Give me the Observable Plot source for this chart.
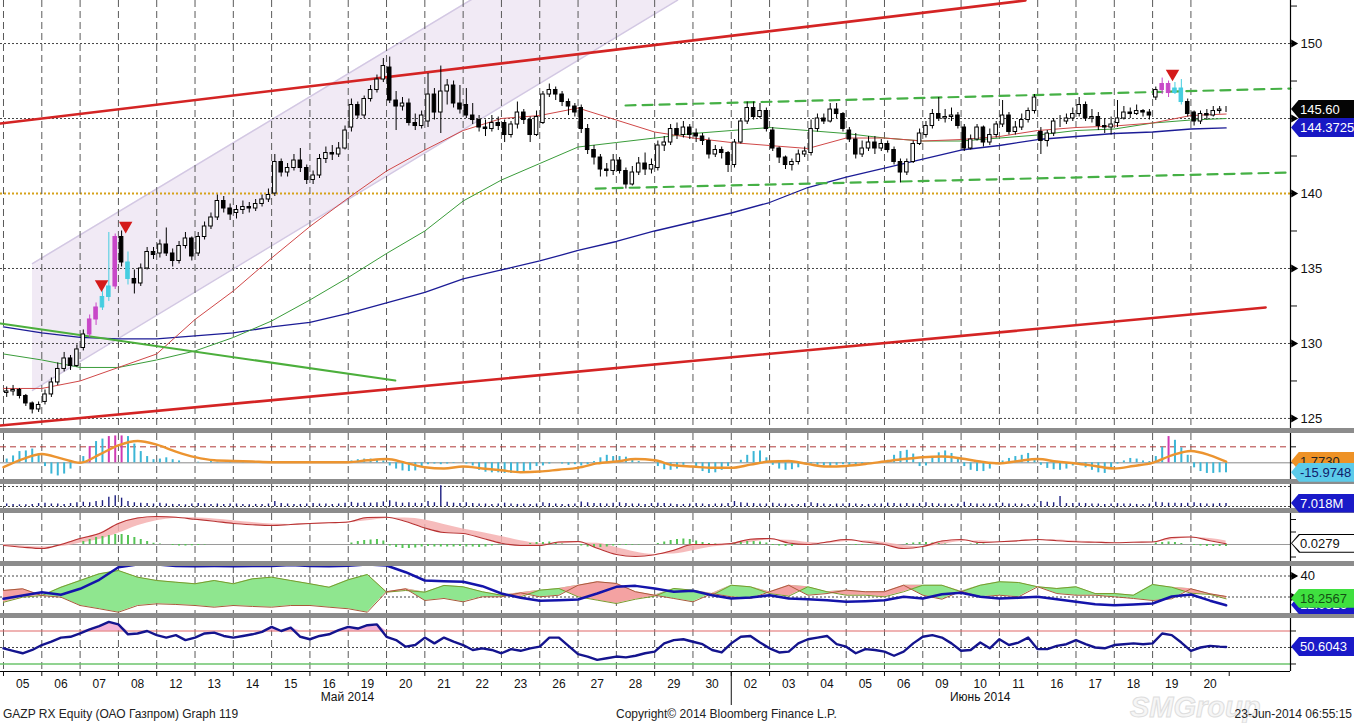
<!DOCTYPE html>
<html><head><meta charset="utf-8">
<script src="https://cdn.jsdelivr.net/npm/d3@7"></script>
<script src="https://cdn.jsdelivr.net/npm/@observablehq/plot@0.6"></script>
<style>
body{margin:0;background:#fff;}
#wrap{position:relative;width:1354px;height:723px;overflow:hidden;font-family:"Liberation Sans",Arial,sans-serif;background:#fff;}
.sep{position:absolute;left:0;width:1354px;height:5px;background:#8c8c8c;}
.tag{position:absolute;left:1291px;width:63px;height:19px;clip-path:polygon(0 50%,8px 0,100% 0,100% 100%,8px 100%);}
.tagin{position:absolute;left:1px;top:1px;right:0;bottom:1px;clip-path:polygon(0 50%,8px 0,100% 0,100% 100%,8px 100%);padding-left:8px;font-size:13px;line-height:17px;white-space:nowrap;}
.txt{position:absolute;white-space:nowrap;color:#222;line-height:1;}
</style></head><body><div id="wrap"></div><script>
// ---------- DATA ----------
const dayLabels = ["05","06","07","08","12","13","14","15","16","19","20","21","22","23","26","27","28","29","30","02","03","04","05","06","09","10","11","16","17","18","19","20"];
const monthLabels = ["Май 2014","Июнь 2014"];
const monthAt = [8.98, 25.5];
const barsPerDay = 6;
const dayOpen = [126.7,126.1,129.7,137.1,136.0,136.0,138.7,140.0,140.9,144.4,148.4,144.8,145.9,144.7,144.7,145.7,142.2,141.7,144.0,141.9,144.2,142.7,144.2,143.3,143.9,144.4,144.6,144.1,145.3,144.7,146.4,145.4];
const close = [
126.8,126.9,126.5,126.0,125.6,125.9, 126.6,127.4,128.3,129.0,128.5,129.6, 130.6,131.6,132.4,133.1,133.8,137.1, 135.4,134.3,134.0,135.0,136.1,135.9,
136.6,136.0,135.5,136.5,137.0,135.8, 137.1,137.8,138.4,139.5,139.0,138.6, 138.9,139.1,139.0,139.3,139.6,139.9, 142.1,141.4,141.7,142.2,141.7,140.9,
141.2,142.3,142.7,142.6,143.0,144.2, 145.9,145.2,146.3,146.9,147.6,148.5, 146.2,145.8,146.0,144.7,144.5,145.2, 146.6,145.4,146.8,147.2,146.0,145.6,
145.2,144.9,144.4,144.3,144.7,144.5, 143.9,144.6,145.4,144.9,143.9,145.1, 146.6,146.9,146.6,146.1,145.8,145.4, 144.3,142.9,142.4,141.6,141.5,142.2,
141.5,140.6,141.4,142.0,141.6,141.9, 143.2,143.4,144.3,143.9,144.4,143.9, 143.8,143.5,142.6,142.9,142.7,141.9, 143.4,144.8,145.7,145.1,145.5,144.3,
143.0,142.4,141.9,142.1,142.6,142.8, 144.3,145.0,144.8,145.6,145.3,144.3, 143.6,142.6,143.0,143.4,143.0,143.3, 142.9,142.1,141.4,142.1,143.3,144.0,
144.5,145.3,145.0,145.1,145.2,144.5, 143.0,143.6,144.4,143.4,143.9,144.6, 145.2,144.1,144.4,144.9,145.5,146.4, 143.5,144.0,144.8,144.8,145.0,145.3,
145.9,145.0,145.1,144.5,144.4,144.6, 145.0,145.4,145.3,145.5,145.4,145.2, 146.9,147.3,146.7,147.0,146.1,145.3, 144.8,145.3,145.2,145.5,145.6,145.6];
const high = [
127.1,127.2,127.0,126.6,126.1,126.1, 126.9,127.7,128.7,129.4,129.2,129.9, 130.9,131.9,132.7,133.5,137.4,137.3, 137.5,136.1,134.9,135.3,136.4,136.4,
136.9,137.7,136.3,136.8,137.4,137.1, 137.4,138.1,138.7,139.9,139.8,139.3, 139.2,139.5,139.4,139.6,139.9,140.3, 142.6,142.3,142.0,142.6,143.0,141.9,
141.5,142.6,143.1,143.2,143.4,144.5, 146.3,146.1,146.5,147.2,147.9,149.0, 149.1,146.8,146.4,146.3,145.3,145.5, 148.0,147.0,148.5,147.6,147.5,147.2,
147.0,146.0,145.2,144.9,145.2,145.1, 144.9,144.8,146.1,145.6,145.1,145.5, 146.8,147.3,147.1,146.8,146.3,146.0, 145.9,144.6,143.2,142.6,142.0,142.6,
142.4,141.7,141.8,142.4,142.7,142.3, 143.5,143.8,144.6,144.7,144.8,144.6, 144.3,144.0,143.7,143.2,143.1,142.8, 143.6,145.0,146.1,146.1,146.0,145.7,
144.4,143.1,142.5,142.3,142.9,143.1, 144.9,145.3,145.3,146.0,146.0,145.4, 144.4,144.0,143.5,143.8,143.8,143.6, 143.5,143.1,142.3,142.3,143.5,144.3,
144.8,145.6,146.4,145.6,145.7,145.4, 144.6,143.9,144.6,144.5,144.3,144.8, 146.2,145.4,144.8,145.3,145.7,146.6, 144.4,144.2,145.0,145.2,145.3,145.7,
146.4,146.1,145.6,145.4,145.0,145.1, 146.2,145.8,145.7,145.9,145.6,145.6, 147.1,147.7,147.5,147.4,147.6,146.3, 145.5,145.5,145.6,145.8,145.8,145.8];
const low = [
126.4,126.5,126.3,125.8,125.3,125.4, 125.9,126.4,127.2,128.1,128.2,128.4, 129.5,130.4,131.2,132.2,132.8,133.6, 135.1,133.9,133.3,133.8,134.9,135.6,
135.7,135.8,135.1,135.3,136.3,135.5, 135.8,136.9,137.6,138.2,138.7,138.2, 138.3,138.6,138.7,138.8,139.1,139.4, 139.8,141.1,141.1,141.5,141.4,140.6,
140.6,141.0,142.0,142.2,142.4,142.9, 144.1,145.0,145.0,146.1,146.7,147.4, 146.0,144.2,145.5,144.5,144.2,144.3, 144.4,144.9,144.0,145.9,145.7,145.3,
145.0,144.6,144.1,143.8,144.1,144.2, 143.4,143.7,144.3,144.6,143.4,143.8, 144.6,146.4,146.2,145.8,145.2,145.1, 144.0,142.6,141.9,141.1,141.1,141.2,
141.3,140.3,140.5,141.2,141.2,141.3, 141.5,142.8,143.2,143.6,143.7,143.6, 143.4,143.2,142.3,142.4,142.3,141.4, 141.7,143.3,144.6,144.9,145.0,144.1,
142.8,142.0,141.6,141.5,141.9,142.4, 142.5,144.1,144.6,144.7,145.0,144.1, 143.4,142.3,142.4,142.8,142.6,142.8, 142.7,141.9,140.7,141.2,142.0,143.2,
143.7,144.3,144.8,144.7,144.8,144.3, 142.8,142.9,143.5,143.1,143.2,143.7, 144.4,143.9,143.9,144.2,144.7,145.3, 142.6,143.1,143.8,144.4,144.6,144.8,
145.1,144.8,144.7,144.2,144.0,143.9, 144.4,144.9,145.0,145.2,145.1,144.9, 146.2,146.6,146.4,146.6,145.9,145.1, 144.5,144.6,144.9,145.1,145.3,145.4];
const magentaBars = [13,14,17,181,182];
const cyanBars = [15,16,19,183,184];
// moving averages, one value per day boundary (last = last bar)
const maRed = [127.0,127.0,127.5,128.4,129.3,131.6,133.5,135.7,137.8,139.7,141.5,142.9,144.2,145.0,145.2,145.7,144.9,144.1,143.7,143.4,143.2,143.0,143.7,143.7,143.5,143.6,143.8,144.2,144.4,144.5,144.7,145.2,145.3];
const maGreen = [129.3,128.9,128.4,128.4,128.9,129.5,130.4,131.5,132.9,134.4,136.0,137.5,139.5,140.9,142.0,143.1,143.4,143.7,144.0,144.2,144.4,144.2,144.0,143.7,143.5,143.5,143.7,143.9,144.2,144.3,144.7,144.9,145.0];
const maBlue = [131.1,130.7,130.4,130.3,130.3,130.5,130.7,131.1,131.4,132.0,132.7,133.4,134.3,134.9,135.5,136.2,136.8,137.5,138.1,138.7,139.4,140.4,141.1,141.7,142.3,142.9,143.2,143.6,143.8,144.0,144.1,144.3,144.3725];
// drawn trend lines (day units, price)
const redTopT = [-0.08, 26.68], redTopV = [144.67, 152.87];
const redLowT = [-0.08, 32.95], redLowV = [124.53, 132.4];
const greenLineT = [-0.08, 10.23], greenLineV = [131.33, 127.53];
const resistT = [16.24, 33.6], resistV = [145.87, 147.0];
const supportT = [15.46, 33.6], supportV = [140.33, 141.4];
const channelT = [0.757, 17.6], channelLo = [126.87, 152.9], channelHi = [135.33, 161.2];
const levelLine = [140];
const sellT = [2.56, 3.19, 30.52], sellV = [133.95, 137.85, 148.0];
const priceLabels = [125,130,135,140,150];
const priceMajor = [125,130,135,140,145,150];
const priceMinor = [127.5,132.5,137.5,142.5,147.5,152.5];
const priceGrid = [125,130,135,145,150];
const lastPrice = 145.60, lastMA = 144.3725;
// panel 1: histogram per bar, signal per half day
const macdHist = [
6,11,18,19,22,14, -6,-18,-21,-18,-10,0, 10,26,34,38,42,43, 43,42,30,18,10,5, 6,8,5,3,0,0, 1,0,2,1,0,1, 0,1,0,1,2,1, 2,1,0,1,1,0,
0,1,1,2,1,2, 3,5,6,6,5,3, -5,-10,-13,-14,-13,-6, -3,-2,-3,-2,-1,0, -2,-5,-12,-15,-16,-16, -17,-17,-16,-16,-12,-6, -5,-2,0,-2,-4,-3, -5,-3,2,8,12,10,
10,9,5,2,0,0, -6,-11,-12,-10,-4,0, -8,-14,-17,-16,-12,-6, 0,4,12,18,19,8, -4,-10,-12,-11,-8,-3, -2,-4,-5,-6,-4,-3, -5,-6,-4,-1,0,0, 4,12,18,20,14,-6,
-5,8,16,19,15,6, -6,-12,-14,-14,-10,-3, 3,7,10,12,15,6, -4,-9,-11,-12,-10,-5, -4,-8,-12,-16,-17,-10, -2,3,7,6,3,2, 10,25,42,36,24,12, -8,-14,-17,-17,-16,-15.9748];
const histMagenta = [13,16,17,18,182];
const macdSignal = [-7,6,14,7,0,13,28,35,29,18, 9,4,3,2,1,1,1,1,1,4, 6,0,-7,-9,-6,-9,-12,-15,-14,-11, -8,-1,2,6,4,-4,-6,-8,-8,-3, 2,3,-2,-6,-5,-2,2,6,9,10, 7,2,-1,3,6,2,-1,-5,-9,-5, 0,12,19,12,1.773];
const macdAlert = [25.6];
// panel 2: volume (millions) per bar
const volume = [
6,5,4,4,5,7, 8,6,6,5,7,9, 10,9,12,14,22,26, 20,12,9,8,7,6, 8,6,5,5,4,6, 7,6,5,6,5,6, 6,5,4,5,5,6, 12,7,6,5,5,6,
7,6,6,5,6,8, 10,8,9,8,9,11, 14,10,8,9,8,7, 12,9,50,10,8,7, 9,7,6,6,5,6, 8,6,5,6,5,6, 9,7,6,5,5,6, 11,9,7,7,6,8,
9,7,6,6,5,7, 8,7,6,5,5,6, 7,6,5,6,6,7, 12,9,8,7,6,6, 8,6,6,5,5,7, 9,7,6,5,6,6, 7,6,5,5,6,6, 8,7,6,7,6,7,
9,7,6,6,5,6, 10,7,6,6,6,7, 8,6,6,6,5,6, 12,10,9,24,7,7, 8,7,6,6,5,6, 7,6,6,5,5,6, 10,9,8,8,7,8, 9,7,6,6,7,7.018];
const volumeGrid = [0, 48];
// panel 3: oscillator line & its signal (half days), histogram per bar
const oscLine = [-0.04,-0.11,-0.16,0.0,0.24,0.44,0.84,1.06,1.12,1.09, 1.01,0.93,0.84,0.79,0.76,0.8,0.84,0.87,0.9,1.08, 1.09,0.92,0.66,0.48,0.44,0.25,0.05,-0.04,-0.04,0.1, 0.12,-0.15,-0.4,-0.48,-0.41,-0.23,0.0,0.0,0.04,0.21, 0.24,0.06,0.0,0.1,0.2,0.1,0.0,-0.16,-0.08,0.14, 0.2,0.08,0.11,0.15,0.2,0.15,0.11,0.09,0.07,0.09, 0.1,0.28,0.3,0.15,0.0279];
const oscSignal = [0.0,-0.06,-0.1,-0.08,0.05,0.2,0.45,0.75,0.95,1.05, 1.07,1.02,0.95,0.88,0.82,0.8,0.81,0.84,0.87,0.95, 1.04,1.06,0.98,0.8,0.62,0.48,0.32,0.15,0.04,0.02, 0.06,0.05,-0.12,-0.3,-0.4,-0.38,-0.25,-0.1,-0.02,0.08, 0.18,0.17,0.08,0.05,0.12,0.15,0.08,-0.04,-0.1,0.0, 0.12,0.15,0.1,0.12,0.16,0.18,0.14,0.11,0.08,0.08, 0.09,0.18,0.28,0.24,0.14];
const oscHist = [
0,0,0,0,0,0, 0,0,0,0,0,0, 0.12,0.2,0.28,0.32,0.36,0.4, 0.4,0.36,0.28,0.2,0.12,0.05, 0.02,0,-0.04,-0.06,-0.06,-0.05, -0.04,-0.02,0,0,0,0, 0,0,0,0,0,0, 0,0,0,0,0,0,
0,0,0,0,0,0, 0.06,0.12,0.16,0.18,0.2,0.14, -0.06,-0.12,-0.16,-0.16,-0.14,-0.1, -0.08,-0.1,-0.1,-0.1,-0.1,-0.08, -0.1,-0.1,-0.12,-0.1,-0.06,-0.02, 0,0,0,0,0.04,0.08, 0.08,0.1,0.08,0.02,0,0, -0.06,-0.1,-0.12,-0.12,-0.1,-0.06,
-0.04,-0.04,-0.03,-0.02,0,0, 0.04,0.1,0.16,0.2,0.22,0.2, 0.14,0.08,0.04,0.02,0,0, 0.04,0.08,0.12,0.12,0.1,0.06, -0.04,-0.06,-0.08,-0.08,-0.04,0, 0,0,0,0,0,0, -0.02,-0.04,-0.04,-0.02,0,0, 0,0,0,0.04,0.06,0.08,
0.08,0.06,0.04,0.02,0,0, 0,0.02,0.04,0.02,0,0, 0,0,0,0,0,0, 0,0,0,0,0,0, 0,0,0,0,0,0, 0,0,0,0,0,0, 0.06,0.08,0.1,0.08,0.04,0, -0.04,-0.06,-0.08,-0.08,-0.08,-0.08];
// panel 4: directional movement (half days)
const plusDI = [15.0,19.8,21.4,29.3,35.7,42.1,45.2,38.9,35.7,34.1, 32.6,35.7,32.6,37.3,38.9,35.7,32.6,29.3,36.4,41.4, 24.6,26.2,24.6,31.0,29.7,25.0,21.7,20.2,26.5,28.1, 20.2,17.0,13.8,17.9,20.8,28.1,26.5,21.7,31.2,29.7, 23.3,20.8,29.7,25.0,21.7,21.7,20.2,25.0,31.2,31.2, 25.0,31.2,34.5,33.8,29.7,28.1,29.7,23.3,23.3,21.7, 31.9,29.3,23.6,22.4,18.2567];
const minusDI = [26.2,27.8,21.4,19.8,11.9,8.8,5.5,11.9,13.5,12.9, 11.9,10.3,11.9,11.0,10.3,11.9,11.9,10.3,8.8,5.5, 25.0,27.8,16.7,18.6,15.4,20.2,20.2,24.0,20.2,21.7, 31.2,34.5,32.9,25.0,21.7,18.6,15.4,23.3,20.2,18.6, 25.0,31.2,21.7,23.3,26.5,25.0,25.0,31.2,21.7,17.9, 25.5,20.2,21.7,20.2,29.7,23.3,21.7,21.7,20.2,18.6, 16.7,18.3,27.8,23.0,20.5];
const adx = [18.3,21.4,24.6,22.1,27.8,36.4,48.4,51.0,51.0,49.6, 49.4,49.5,49.4,49.6,49.5,50.5,49.5,49.4,49.8,51.0, 50.0,43.6,35.7,35.0,34.5,30.3,23.3,19.2,16.4,17.0, 17.6,23.3,29.7,30.6,28.1,25.0,25.9,21.7,18.6,19.5, 21.7,18.6,17.9,17.0,15.4,16.0,17.0,20.2,18.6,22.7, 24.0,20.2,18.6,19.2,20.2,17.9,15.4,13.1,12.2,12.9, 13.8,20.5,22.4,16.5,12.0926];
const dmiGrid = [20, 40];
const dmiLabels = [40];
// panel 5: RSI (quarter days)
const rsi = [49,46,43,47, 53,57,62,63, 67,72,76,81, 78,66,67,70, 65,62,65,59, 62,67,68,64, 62,64,66,69, 75,70,74,63,
60,64,66,71, 75,73,77,78, 63,59,51,53, 62,55,62,57, 53,47,49,47, 43,48,46,49, 51,62,62,52, 42,39,35,37,
39,38,40,43, 45,55,59,60, 57,54,47,44, 55,63,64,56, 49,44,45,55, 60,62,64,54, 51,43,48,47, 45,40,45,55,
63,65,62,55, 46,47,56,49, 60,53,56,62, 48,48,52,54, 59,54,50,49, 53,54,55,54, 55,67,65,56, 46,50,52,51, 50.6043];
const rsiLevels = [30, 50, 70];

// ---------- BUILD ----------
const wrap = document.getElementById("wrap");
const lastT = 31.92;
const XD = [-0.0783, 33.6];
const dayBounds = d3.range(0, 32);
const dayT = i => i < 32 ? i : lastT;
const halfT = i => i < 64 ? i / 2 : lastT;
const qT = i => i < 128 ? i / 4 : lastT;
const barT = i => Math.floor(i / barsPerDay) + ((i % barsPerDay) + 0.5) / barsPerDay;

const bars = close.map((c, i) => ({
  i, t: barT(i), close: c, high: high[i], low: low[i],
  open: i % barsPerDay === 0 ? dayOpen[i / barsPerDay] : close[i - 1]
}));
const hl = b => magentaBars.includes(b.i) ? "#c848c8" : cyanBars.includes(b.i) ? "#45cde0" : null;
const seg = (T, V) => T.map((t, k) => ({t, v: V[k]}));
const ma = arr => arr.map((v, i) => ({t: dayT(i), v}));
const FONT = "'Liberation Sans', Arial, sans-serif";
const blank = () => "";

function panel(top, h, ydom, marks, mb = 0, fs = "13px") {
  const svg = Plot.plot({
    width: 1354, height: h + mb, marginLeft: 0, marginRight: 64, marginTop: 0, marginBottom: mb,
    x: {domain: XD, axis: null}, y: {domain: ydom, axis: null},
    style: {background: "transparent", fontFamily: FONT, fontSize: fs, color: "#111", overflow: "visible"},
    marks
  });
  svg.style.position = "absolute"; svg.style.left = "0px"; svg.style.top = top + "px";
  wrap.appendChild(svg);
  return svg;
}
const vgrid = () => Plot.ruleX(dayBounds, {stroke: "#5a5a5a", strokeDasharray: "7,4", strokeWidth: 1});
const axisLine = () => Plot.ruleX([XD[1]], {stroke: "#000", strokeWidth: 1.2});
const rTicks = (ticks, size = 5) => Plot.axisY({anchor: "right", ticks, tickSize: size, tickFormat: blank, label: null});

// main price panel
const channel = channelT.map((t, k) => ({t, lo: channelLo[k], hi: channelHi[k]}));
const mainSvg = panel(0, 428, [124.33, 152.87], [
  Plot.areaY(channel, {x: "t", y1: "lo", y2: "hi", fill: "#f1eaf5", clip: true}),
  Plot.lineY(channel, {x: "t", y: "lo", stroke: "#d3c8e3", clip: true}),
  Plot.lineY(channel, {x: "t", y: "hi", stroke: "#d3c8e3", clip: true}),
  Plot.ruleY(priceGrid, {stroke: "#444", strokeDasharray: "2,2"}),
  Plot.ruleY(levelLine, {stroke: "#d6a21a", strokeWidth: 2, strokeDasharray: "2,2"}),
  vgrid(),
  Plot.lineY(ma(maBlue), {x: "t", y: "v", stroke: "#1c1c96", strokeWidth: 1.3}),
  Plot.lineY(ma(maGreen), {x: "t", y: "v", stroke: "#3a9c3a", strokeWidth: 1}),
  Plot.lineY(ma(maRed), {x: "t", y: "v", stroke: "#d04848", strokeWidth: 1}),
  Plot.lineY(seg(redTopT, redTopV), {x: "t", y: "v", stroke: "#d42424", strokeWidth: 2.6, clip: true}),
  Plot.lineY(seg(redLowT, redLowV), {x: "t", y: "v", stroke: "#d42424", strokeWidth: 2.6, clip: true}),
  Plot.lineY(seg(greenLineT, greenLineV), {x: "t", y: "v", stroke: "#4caf3c", strokeWidth: 2, clip: true}),
  Plot.lineY(seg(resistT, resistV), {x: "t", y: "v", stroke: "#45b045", strokeWidth: 2.2, strokeDasharray: "10,7"}),
  Plot.lineY(seg(supportT, supportV), {x: "t", y: "v", stroke: "#45b045", strokeWidth: 2.2, strokeDasharray: "10,7"}),
  Plot.ruleX(bars, {x: "t", y1: "low", y2: "high", stroke: b => hl(b) || "#000", strokeWidth: 1}),
  Plot.rect(bars, {x1: b => b.t - 0.046, x2: b => b.t + 0.046, y1: "open", y2: "close",
    fill: b => hl(b) || (b.close >= b.open ? "#fff" : "#000"), stroke: b => hl(b) || "#000", strokeWidth: 1}),
  Plot.dot(seg(sellT, sellV), {x: "t", y: "v", symbol: "triangle", rotate: 180, r: 5, fill: "#d41a1a"}),
  axisLine(),
  Plot.axisY({anchor: "right", ticks: priceLabels, tickSize: 6, tickPadding: 4, fontSize: 13, label: null}),
  rTicks(priceMajor, 6),
  rTicks(priceMinor, 6),
  Plot.dot(priceMajor, {x: XD[1], y: d => d, dx: 3, symbol: "triangle", rotate: 90, r: 3, fill: "#000"})
]);

// panel 1: histogram + signal
const hist = macdHist.map((v, i) => ({t: barT(i), v, c: histMagenta.includes(i) ? "#d03ab4" : "#3cb6d6"}));
const p1 = panel(433, 46, [-26.7, 46.9], [
  vgrid(),
  Plot.ruleY(macdAlert, {stroke: "#b03a3a", strokeDasharray: "6,4"}),
  Plot.ruleY([0], {stroke: "#8a8a8a"}),
  Plot.ruleX(hist, {x: "t", y1: 0, y2: "v", stroke: "c", strokeWidth: 2}),
  Plot.lineY(macdSignal.map((v, i) => ({t: halfT(i), v})), {x: "t", y: "v", stroke: "#ec9430", strokeWidth: 2.4, curve: "monotone-x", clip: true}),
  axisLine(),
  rTicks([0, 25.6])
]);

// panel 2: volume
const vol = volume.map((v, i) => ({t: barT(i), v}));
const p2 = panel(484, 24, [-4.8, 52.8], [
  vgrid(),
  Plot.ruleY(volumeGrid, {stroke: "#444", strokeDasharray: "2,2"}),
  Plot.ruleX(vol, {x: "t", y1: 0, y2: "v", stroke: "#1c1f80", strokeWidth: 1.4}),
  axisLine()
]);

// panel 3: oscillator
const osc = oscLine.map((v, i) => ({t: halfT(i), v, s: oscSignal[i]}));
const oh = oscHist.map((v, i) => ({t: barT(i), v})).filter(d => d.v !== 0);
const p3 = panel(513, 48, [-0.68, 1.24], [
  vgrid(),
  Plot.ruleY([0], {stroke: "#9a9a9a"}),
  Plot.areaY(osc, {x: "t", y1: "s", y2: "v", fill: "#f5b0b0", fillOpacity: 0.85, curve: "monotone-x"}),
  Plot.ruleX(oh, {x: "t", y1: 0, y2: "v", stroke: "#55c455", strokeWidth: 2}),
  Plot.lineY(osc, {x: "t", y: "v", stroke: "#b83232", strokeWidth: 1.2, curve: "monotone-x"}),
  axisLine(),
  rTicks([-0.5, 0.5, 1])
]);

// panel 4: DMI / ADX
const dmi = plusDI.map((p, i) => ({t: halfT(i), p, m: minusDI[i], a: adx[i], hi: Math.max(p, minusDI[i])}));
const p4 = panel(566, 47, [4.29, 49.05], [
  vgrid(),
  Plot.ruleY(dmiGrid, {stroke: "#444", strokeDasharray: "2,2"}),
  Plot.areaY(dmi, {x: "t", y1: "m", y2: "hi", fill: "#8fe68f"}),
  Plot.areaY(dmi, {x: "t", y1: "p", y2: "hi", fill: "#f4a2a2"}),
  Plot.lineY(dmi, {x: "t", y: "p", stroke: "#7a9a2c", strokeWidth: 1}),
  Plot.lineY(dmi, {x: "t", y: "m", stroke: "#a85a3a", strokeWidth: 1}),
  Plot.lineY(dmi, {x: "t", y: "a", stroke: "#1414aa", strokeWidth: 2.5, clip: true}),
  axisLine(),
  Plot.axisY({anchor: "right", ticks: dmiLabels, tickSize: 6, tickPadding: 4, fontSize: 13, label: null}),
  rTicks(dmiGrid, 6),
  Plot.dot(dmiGrid, {x: XD[1], y: d => d, dx: 3, symbol: "triangle", rotate: 90, r: 3, fill: "#000"})
]);

// panel 5: RSI + x axis
const rs = rsi.map((v, i) => ({t: qT(i), v, hi: Math.max(v, 70)}));
const dayCenters = dayLabels.map((d, i) => i + 0.5);
const labelOf = new Map(dayCenters.map((c, i) => [c, dayLabels[i]]));
const monthOf = new Map(monthAt.map((c, i) => [c, monthLabels[i]]));
const p5 = panel(618, 53, [20.9, 85.15], [
  vgrid(),
  Plot.areaY(rs, {x: "t", y1: 70, y2: "hi", fill: "#f4b4d8"}),
  Plot.ruleY([70], {stroke: "#e06868", strokeWidth: 1.2}),
  Plot.ruleY([50], {stroke: "#444", strokeDasharray: "2,2"}),
  Plot.ruleY([30], {stroke: "#6cc46c", strokeWidth: 1.5}),
  Plot.lineY(rs, {x: "t", y: "v", stroke: "#14148e", strokeWidth: 2.4}),
  Plot.ruleY([20.9], {stroke: "#000"}),
  axisLine(),
  rTicks(rsiLevels),
  Plot.axisX({anchor: "bottom", ticks: d3.range(0, 33), tickSize: 5, tickFormat: blank, label: null}),
  Plot.axisX({anchor: "bottom", ticks: [19], tickSize: 34, tickFormat: blank, label: null}),
  Plot.axisX({anchor: "bottom", ticks: dayCenters, tickSize: 0, tickPadding: 8, tickFormat: d => labelOf.get(d), fontSize: 12, label: null}),
  Plot.axisX({anchor: "bottom", ticks: monthAt, tickSize: 0, tickPadding: 21, tickFormat: d => monthOf.get(d), fontSize: 12, label: null})
], 52, "12px");

// separators
[428, 479, 508, 561, 613].forEach(y => {
  const s = document.createElement("div"); s.className = "sep"; s.style.top = y + "px"; wrap.appendChild(s);
});

// value tags
function tag(svg, top, value, text, bg, fg, border) {
  const y = top + svg.scale("y").apply(value);
  const o = document.createElement("div"); o.className = "tag";
  o.style.top = (y - 9.5) + "px"; o.style.background = border || bg;
  const inn = document.createElement("div"); inn.className = "tagin";
  inn.style.background = bg; inn.style.color = fg; inn.textContent = text;
  o.appendChild(inn); wrap.appendChild(o);
}
tag(mainSvg, 0, lastPrice, "145.60", "#050505", "#fff");
tag(mainSvg, 0, lastMA, "144.3725", "#1818c4", "#fff");
tag(p1, 433, macdSignal[macdSignal.length - 1], "1.7730", "#ee9226", "#222");
tag(p1, 433, macdHist[macdHist.length - 1], "-15.9748", "#5ccbea", "#10206a");
tag(p2, 484, volume[volume.length - 1], "7.018M", "#1a1ac8", "#fff");
tag(p3, 513, oscLine[oscLine.length - 1], "0.0279", "#fff", "#111", "#000");
tag(p4, 566, adx[adx.length - 1], "12.0926", "#1a1ac8", "#fff");
tag(p4, 566, plusDI[plusDI.length - 1], "18.2567", "#3fe03f", "#145014");
tag(p5, 618, rsi[rsi.length - 1], "50.6043", "#1a1ac8", "#fff");

// footer texts
function txt(s, css) { const d = document.createElement("div"); d.className = "txt"; d.textContent = s; Object.assign(d.style, css); wrap.appendChild(d); }
txt("SMGroup", {left: "1130px", top: "693px", fontSize: "29px", fontStyle: "italic", fontWeight: "bold", color: "#f6f6f6", webkitTextStroke: "1px #dedede"});
txt("GAZP RX Equity (ОАО Газпром) Graph 119", {left: "3px", top: "708px", fontSize: "12px"});
txt("Copyright© 2014 Bloomberg Finance L.P.", {left: "616px", top: "708px", fontSize: "12px"});
txt("23-Jun-2014 06:55:15", {right: "2px", top: "708px", fontSize: "12px"});
</script></body></html>
